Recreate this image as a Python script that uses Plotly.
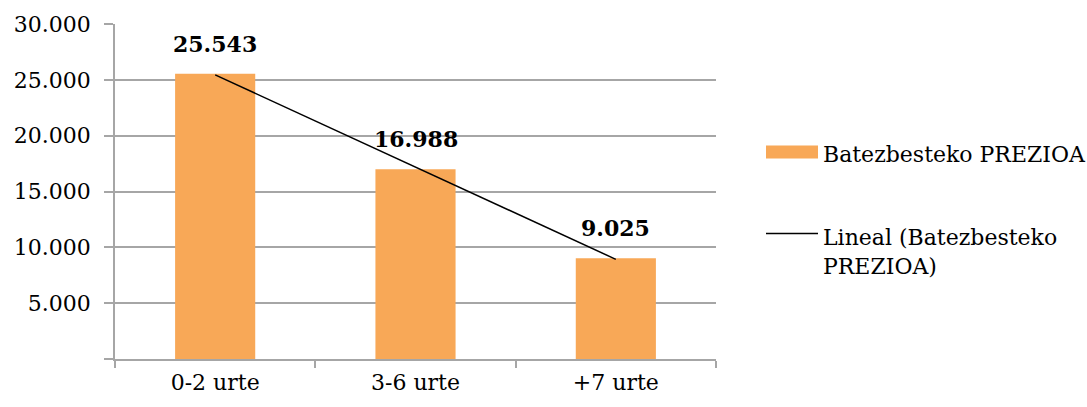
import numpy as np
import plotly.graph_objects as go

# Average price by vehicle age
categories = ["0-2 urte", "3-6 urte", "+7 urte"]
prices = [25543, 16988, 9025]
y_ticks = [0, 5000, 10000, 15000, 20000, 25000, 30000]

series_name = "Batezbesteko PREZIOA"
trend_name = "Lineal (Batezbesteko<br>PREZIOA)"

BAR = "#F8A857"
GRID = "#A6A6A6"
FONT = "DejaVu Serif"

W, H = 1087, 407
M = dict(l=115, r=371, t=22, b=46)


def fmt(v):
    return f"{v:,}".replace(",", ".")


def px(x):
    return (x - M["l"]) / (W - M["l"] - M["r"])


def py(y):
    return (H - M["b"] - y) / (H - M["t"] - M["b"])


# linear trend through the bar values
xi = np.arange(1, len(prices) + 1)
slope, icpt = np.polyfit(xi, prices, 1)
trend = slope * xi + icpt

fig = go.Figure()
fig.add_trace(go.Bar(x=categories, y=prices, marker_color=BAR,
                     marker_line_width=0, name=series_name))
fig.add_trace(go.Scatter(x=categories, y=trend, mode="lines",
                         line=dict(color="black", width=1.5), name="Lineal"))

for c, v in zip(categories, prices):
    fig.add_annotation(x=c, y=v, text=f"<b>{fmt(v)}</b>", showarrow=False,
                       yshift=30, font=dict(family=FONT, size=22, color="black"))

# legend drawn beside the plot
fig.add_shape(type="rect", xref="paper", yref="paper",
              x0=px(766), x1=px(818), y0=py(158), y1=py(145),
              fillcolor=BAR, line_width=0)
fig.add_annotation(xref="paper", yref="paper", x=px(821), y=py(154),
                   xanchor="left", yanchor="middle", showarrow=False,
                   text=series_name, font=dict(family=FONT, size=22, color="black"))
fig.add_shape(type="line", xref="paper", yref="paper",
              x0=px(766), x1=px(818), y0=py(234), y1=py(234),
              line=dict(color="black", width=1.5))
fig.add_annotation(xref="paper", yref="paper", x=px(821), y=py(223),
                   xanchor="left", yanchor="top", showarrow=False, align="left",
                   text=trend_name, font=dict(family=FONT, size=22, color="black"))

fig.update_layout(
    width=W, height=H, margin=M,
    paper_bgcolor="white", plot_bgcolor="white",
    showlegend=False, bargap=0.6,
    font=dict(family=FONT, size=22, color="black"),
)
fig.update_xaxes(showline=True, linecolor=GRID, linewidth=1.5,
                 ticks="outside", tickson="boundaries", ticklen=7,
                 tickcolor=GRID, tickwidth=1.5, showgrid=False,
                 tickfont=dict(family=FONT, size=22), ticklabelstandoff=3)
fig.update_yaxes(range=[0, 30000], tickvals=y_ticks,
                 ticktext=["" if v == 0 else fmt(v) for v in y_ticks],
                 showline=True, linecolor=GRID, linewidth=1.5,
                 ticks="outside", ticklen=9, tickcolor=GRID, tickwidth=1.5,
                 showgrid=True, gridcolor=GRID, gridwidth=1.5, zeroline=False,
                 tickfont=dict(family=FONT, size=22), ticklabelstandoff=9)

fig.write_html("out.html")
